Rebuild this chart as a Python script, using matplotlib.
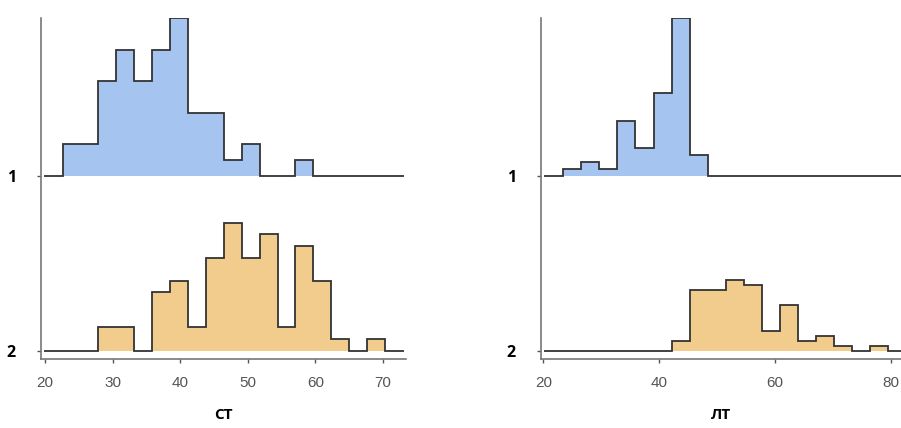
import matplotlib.pyplot as plt
import numpy as np

# counts per bin
ct_start, ct_width = 22.6, 2.65
ct_g1 = [2, 2, 6, 8, 6, 8, 10, 4, 4, 1, 2, 0, 0, 1]
ct_g2 = [0, 0, 2, 2, 0, 5, 6, 2, 8, 11, 8, 10, 2, 9, 6, 1, 0, 1]

lt_start, lt_width = 23.45, 3.12
lt_g1 = [1, 2, 1, 8, 4, 12, 23, 3]
lt_g2 = [0, 0, 0, 0, 0, 0, 2, 12, 12, 14, 13, 4, 9, 2, 3, 1, 0, 1]

groups = ["1", "2"]
colors = ["#a6c4f0", "#f1cc8c"]

panels = [
    ("CT", ct_start, ct_width, [ct_g1, ct_g2], [20, 30, 40, 50, 60, 70], (19.4, 73.4), 73.1),
    ("ЛТ", lt_start, lt_width, [lt_g1, lt_g2], [20, 40, 60, 80], (19.6, 81.8), 81.8),
]

fig = plt.figure(figsize=(9.01, 4.28), dpi=100)
axes = [fig.add_axes([0.0455, 0.1612, 0.405, 0.797]),
        fig.add_axes([0.6004, 0.1612, 0.3996, 0.797])]

for ax, (name, start, width, rows, ticks, xlim, line_hi) in zip(axes, panels):
    dens = [np.array(r) / sum(r) for r in rows]
    scale = 0.9 / max(d.max() for d in dens)
    for i, (d, c) in enumerate(zip(dens, colors)):
        base = i + 1
        edges = start + width * np.arange(len(d) + 1)
        h = d * scale
        ax.stairs(base - h, edges, baseline=base, fill=True, color=c, lw=0)
        ext_edges = np.concatenate([[xlim[0] + 0.45], edges, [line_hi]])
        ext_h = np.concatenate([[0], h, [0]])
        ax.stairs(base - ext_h, ext_edges, baseline=base, fill=False,
                  color="#333333", lw=1.3)
    ax.set_xlim(*xlim)
    ax.set_ylim(2.047, 0.099)
    ax.set_yticks([1, 2])
    ax.set_yticklabels(groups, fontsize=11.5, fontweight="bold", color="black",
                       family="Open Sans")
    ax.set_xticks(ticks)
    ax.tick_params(axis="x", length=3, width=1, color="#555555", pad=9,
                   labelsize=11, labelcolor="#555555")
    ax.tick_params(axis="y", length=3, width=1, color="#555555", pad=15)
    for lab in ax.get_xticklabels():
        lab.set_family("Liberation Sans")
    for s in ["top", "right"]:
        ax.spines[s].set_visible(False)
    for s in ["left", "bottom"]:
        ax.spines[s].set_color("#777777")
        ax.spines[s].set_linewidth(1.2)
    ax.set_xlabel(name, fontsize=11, fontweight="bold", family="Open Sans",
                  labelpad=13)

fig.savefig("out.png", dpi=100)
